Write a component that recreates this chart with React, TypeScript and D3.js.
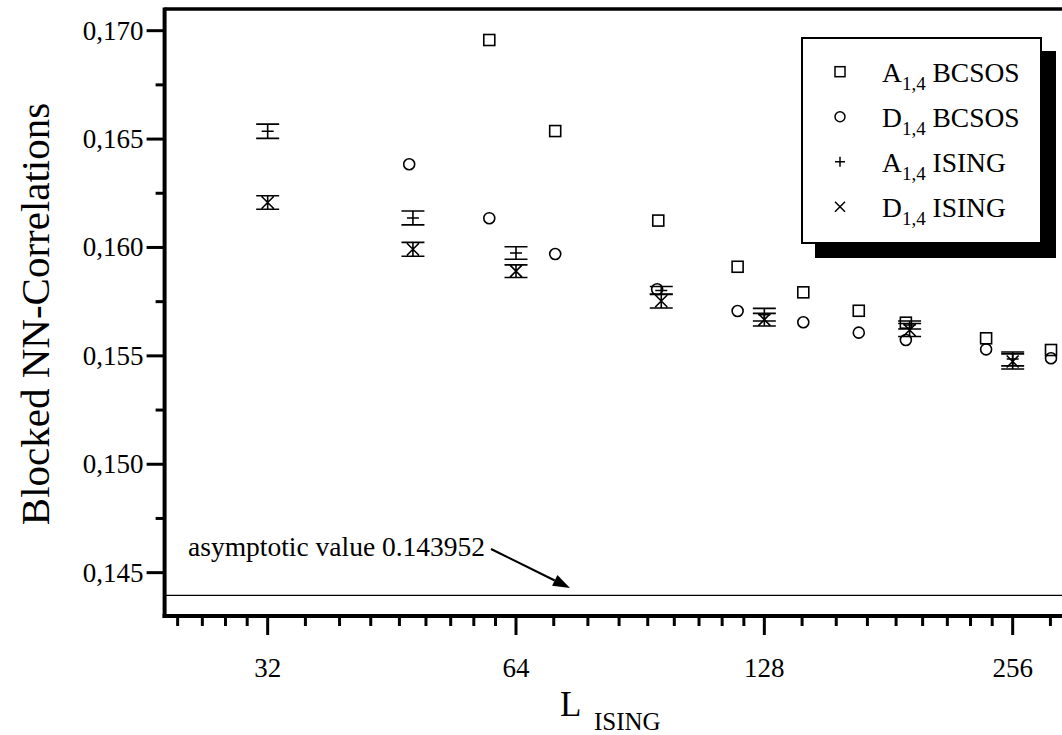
import React from "react";
import * as d3 from "d3";

const W = 1062;
const H = 735;

// Tick values and labels
const xMajorTicks = [32, 64, 128, 256];
const xTickLabels = ["32", "64", "128", "256"];
const yMajorTicks = [0.145, 0.15, 0.155, 0.16, 0.165, 0.17];
const yTickLabels = ["0,145", "0,150", "0,155", "0,160", "0,165", "0,170"];
const yMinorTicks = [0.1475, 0.1525, 0.1575, 0.1625, 0.1675];
const xMinorOctaves = [16, 32, 64, 128, 256];

// A_{1,4} BCSOS (squares)
const aBcsosL = [59.4, 71.4, 95.2, 118.8, 142.7, 166.6, 190.0, 237.7, 284.9];
const aBcsosV = [0.16957, 0.16537, 0.16124, 0.15911, 0.15793, 0.15708, 0.15653, 0.15581, 0.15527];

// D_{1,4} BCSOS (circles)
const dBcsosL = [47.5, 59.4, 71.4, 94.9, 118.8, 142.7, 166.6, 190.0, 237.7, 284.9];
const dBcsosV = [0.16384, 0.16135, 0.1597, 0.15807, 0.15707, 0.15655, 0.15607, 0.15573, 0.1553, 0.15489];

// A_{1,4} ISING (+) with errors
const isingL = [32, 48, 64, 96, 128, 192, 256];
const aIsingV = [0.16536, 0.16136, 0.159745, 0.158016, 0.1569, 0.156424, 0.154856];
const aIsingE = [0.00033, 0.00032, 0.00029, 0.000185, 0.00029, 0.000185, 0.00032];

// D_{1,4} ISING (x) with errors
const dIsingV = [0.162075, 0.159916, 0.158906, 0.157531, 0.156669, 0.156194, 0.154741];
const dIsingE = [0.00031, 0.00032, 0.00029, 0.00032, 0.00029, 0.0003, 0.00035];

const asymptote = 0.143952;

const FONT = "Liberation Serif, Times New Roman, serif";

export default function App() {
  const x = d3.scaleLog().base(2).domain([24, 300]).range([164.6, 1069.5]);
  const y = d3.scaleLinear().domain([0.143, 0.171]).range([616, 9]);

  const x0 = x.range()[0];
  const y0 = y.range()[0];
  const yTop = y.range()[1];

  const xMinor: number[] = [];
  xMinorOctaves.forEach((b) => {
    for (let k = 1; k <= 8; k++) {
      const v = b * (1 + k / 9);
      if (v > 24 && v < 300) xMinor.push(v);
    }
  });

  const sq = 5.5;
  const cr = 5.5;
  const cap = 11.5;
  const mk = 6;

  const legendItems = [
    { sym: "square", main: "A", sub: "1,4", rest: " BCSOS" },
    { sym: "circle", main: "D", sub: "1,4", rest: " BCSOS" },
    { sym: "plus", main: "A", sub: "1,4", rest: " ISING" },
    { sym: "cross", main: "D", sub: "1,4", rest: " ISING" },
  ];

  const symbol = (s: string, cx: number, cy: number, key: string | number) => {
    if (s === "square")
      return <rect key={key} x={cx - 5} y={cy - 5} width={10} height={10} fill="none" stroke="#000" strokeWidth={1.5} />;
    if (s === "circle") return <circle key={key} cx={cx} cy={cy} r={5} fill="none" stroke="#000" strokeWidth={1.5} />;
    if (s === "plus")
      return (
        <path key={key} d={`M${cx - 5},${cy}H${cx + 5}M${cx},${cy - 5}V${cy + 5}`} stroke="#000" strokeWidth={1.5} />
      );
    return (
      <path
        key={key}
        d={`M${cx - 5},${cy - 5}L${cx + 5},${cy + 5}M${cx - 5},${cy + 5}L${cx + 5},${cy - 5}`}
        stroke="#000"
        strokeWidth={1.5}
      />
    );
  };

  // arrow
  const ax1 = 491, ay1 = 549, ax2 = 570, ay2 = 588;
  const ang = Math.atan2(ay2 - ay1, ax2 - ax1);
  const hl = 17, hw = 6;
  const bx = ax2 - hl * Math.cos(ang), by = ay2 - hl * Math.sin(ang);
  const head = `M${ax2},${ay2}L${bx + hw * Math.sin(ang)},${by - hw * Math.cos(ang)}L${bx - hw * Math.sin(ang)},${by + hw * Math.cos(ang)}Z`;

  return (
    <svg width={W} height={H} style={{ position: "absolute", left: 0, top: 0, background: "#fff" }} fontFamily={FONT}>
      <rect x={0} y={0} width={W} height={H} fill="#fff" />

      {/* asymptote */}
      <line x1={x0} x2={W} y1={y(asymptote)} y2={y(asymptote)} stroke="#000" strokeWidth={1.4} />
      <text x={188} y={556} fontSize={27.5} fill="#000">asymptotic value 0.143952</text>
      <line x1={ax1} y1={ay1} x2={bx} y2={by} stroke="#000" strokeWidth={2.2} />
      <path d={head} fill="#000" />

      {/* BCSOS squares */}
      {aBcsosL.map((l, i) => (
        <rect key={"as" + i} x={x(l) - sq} y={y(aBcsosV[i]) - sq} width={sq * 2} height={sq * 2} fill="none" stroke="#000" strokeWidth={1.6} />
      ))}
      {dBcsosL.map((l, i) => (
        <circle key={"dc" + i} cx={x(l)} cy={y(dBcsosV[i])} r={cr} fill="none" stroke="#000" strokeWidth={1.6} />
      ))}

      {/* ISING A (+) */}
      {isingL.map((l, i) => {
        const cx = x(l), cy = y(aIsingV[i]);
        const yl = y(aIsingV[i] - aIsingE[i]), yh = y(aIsingV[i] + aIsingE[i]);
        return (
          <path
            key={"ai" + i}
            d={`M${cx},${yh}V${yl}M${cx - cap},${yh}H${cx + cap}M${cx - cap},${yl}H${cx + cap}M${cx - mk},${cy}H${cx + mk}`}
            stroke="#000"
            strokeWidth={1.6}
            fill="none"
          />
        );
      })}
      {/* ISING D (x) */}
      {isingL.map((l, i) => {
        const cx = x(l), cy = y(dIsingV[i]);
        const yl = y(dIsingV[i] - dIsingE[i]), yh = y(dIsingV[i] + dIsingE[i]);
        const h = Math.min(mk, (yl - yh) / 2);
        return (
          <path
            key={"di" + i}
            d={`M${cx},${yh}V${yl}M${cx - cap},${yh}H${cx + cap}M${cx - cap},${yl}H${cx + cap}M${cx - mk},${cy - h}L${cx + mk},${cy + h}M${cx - mk},${cy + h}L${cx + mk},${cy - h}`}
            stroke="#000"
            strokeWidth={1.6}
            fill="none"
          />
        );
      })}

      {/* axes frame */}
      <line x1={x0} x2={W} y1={yTop} y2={yTop} stroke="#000" strokeWidth={3.5} />
      <line x1={x0} x2={x0} y1={yTop - 1.5} y2={y0 + 2} stroke="#000" strokeWidth={4} />
      <line x1={x0 - 2} x2={W} y1={y0} y2={y0} stroke="#000" strokeWidth={4} />

      {/* y ticks */}
      {yMajorTicks.map((t, i) => (
        <g key={"yt" + i}>
          <line x1={x0 - 18} x2={x0} y1={y(t)} y2={y(t)} stroke="#000" strokeWidth={3} />
          <text x={x0 - 21} y={y(t) + 9} fontSize={27} textAnchor="end" fill="#000">
            {yTickLabels[i]}
          </text>
        </g>
      ))}
      {yMinorTicks.map((t, i) => (
        <line key={"ym" + i} x1={x0 - 9} x2={x0} y1={y(t)} y2={y(t)} stroke="#000" strokeWidth={3} />
      ))}

      {/* x ticks */}
      {xMajorTicks.map((t, i) => (
        <g key={"xt" + i}>
          <line x1={x(t)} x2={x(t)} y1={y0} y2={y0 + 19} stroke="#000" strokeWidth={3} />
          <text x={x(t)} y={677} fontSize={27} textAnchor="middle" fill="#000">
            {xTickLabels[i]}
          </text>
        </g>
      ))}
      {xMinor.map((t, i) => (
        <line key={"xm" + i} x1={x(t)} x2={x(t)} y1={y0} y2={y0 + 10} stroke="#000" strokeWidth={3} />
      ))}

      {/* axis titles */}
      <text transform={`translate(49,314) rotate(-90)`} fontSize={41} textAnchor="middle" fill="#000">
        Blocked NN-Correlations
      </text>
      <text x={560} y={716} fontSize={35} fill="#000">L</text>
      <text x={594} y={730} fontSize={25} fill="#000">ISING</text>

      {/* legend */}
      <rect x={815} y={51} width={241} height={207} fill="#000" />
      <rect x={802} y={38} width={239} height={205} fill="#fff" stroke="#000" strokeWidth={2} />
      {legendItems.map((it, i) => {
        const cy = 71.7 + i * 45;
        return (
          <g key={"lg" + i}>
            {symbol(it.sym, 840, cy, "s" + i)}
            <text x={882} y={cy + 10} fontSize={27.5} fill="#000">
              {it.main}
              <tspan fontSize={19} dy={8}>{it.sub}</tspan>
              <tspan dy={-8}>{it.rest}</tspan>
            </text>
          </g>
        );
      })}
    </svg>
  );
}
